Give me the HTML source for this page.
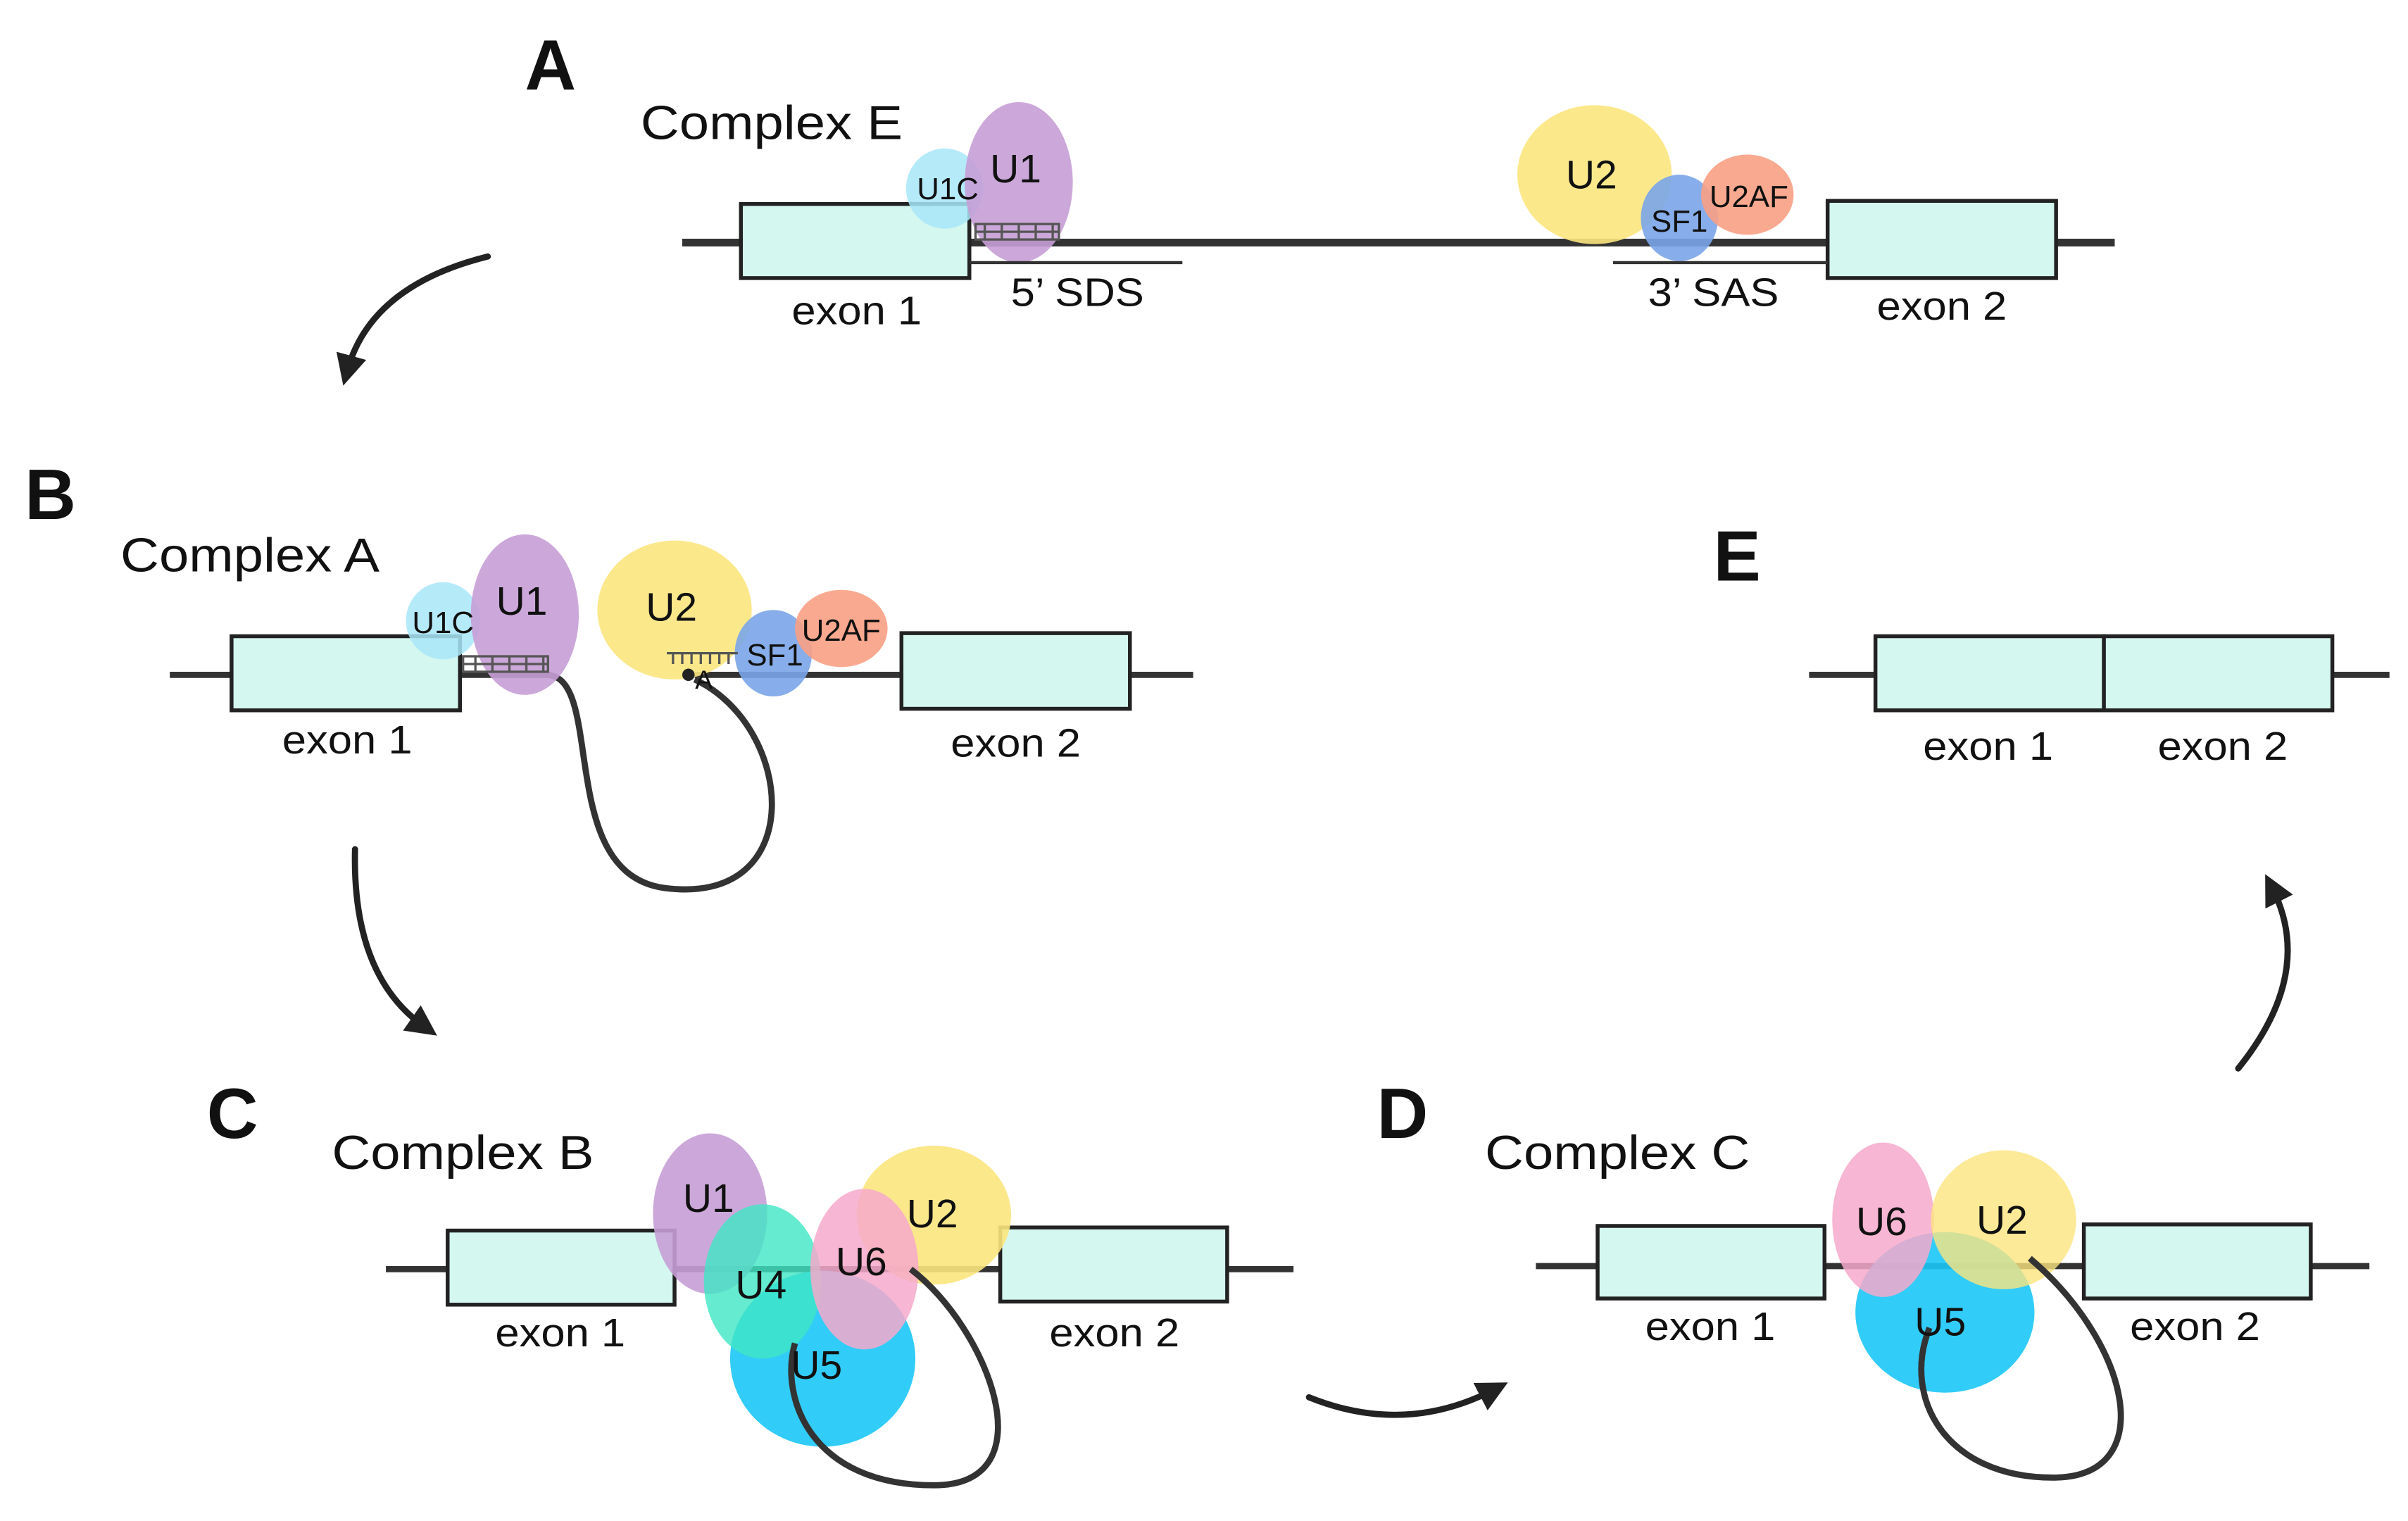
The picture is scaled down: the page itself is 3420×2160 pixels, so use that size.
<!DOCTYPE html>
<html><head><meta charset="utf-8"><style>
html,body{margin:0;padding:0;background:#fff;}
svg{display:block;}
text{font-family:"Liberation Sans",sans-serif;fill:#111;}
.lab{font-size:26px;}
.ttl{font-size:31px;}
</style></head><body>
<svg width="3420" height="2160" viewBox="0 0 1560 985" xmlns="http://www.w3.org/2000/svg">
<defs>
<marker id="ah" viewBox="0 0 10 10" refX="5" refY="5" markerWidth="5" markerHeight="5" orient="auto"><path d="M0,0 L10,5 L0,10 z" fill="#222"/></marker>
<pattern id="hatch" width="11" height="10" patternUnits="userSpaceOnUse"><rect width="11" height="10" fill="none" stroke="#555" stroke-width="1.5"/></pattern>
</defs>
<g stroke="#222" stroke-width="4" fill="none" stroke-linecap="round">
<path d="M316 166 Q 240 185 225 240" marker-end="url(#ah)"/>
<path d="M230 550 Q 228 632 275 665" marker-end="url(#ah)"/>
<path d="M848 905 Q 910 930 968 900" marker-end="url(#ah)"/>
<path d="M1450 692 Q 1500 630 1472 575" marker-end="url(#ah)"/>
</g>

<!-- Panel A -->
<text x="340" y="58" font-size="46" font-weight="bold">A</text>
<text x="415" y="90" class="ttl" transform="translate(415 0) scale(1.12 1) translate(-415 0)">Complex E</text>
<line x1="442" y1="157" x2="1370" y2="157" stroke="#333" stroke-width="5"/>
<rect x="480" y="132" width="148" height="48" fill="#d4f7f0" stroke="#222" stroke-width="2.5"/>
<rect x="1184" y="130" width="148" height="50" fill="#d4f7f0" stroke="#222" stroke-width="2.5"/>
<ellipse cx="612" cy="122" rx="25" ry="26" fill="#a8e6f8" opacity="0.85"/>
<ellipse cx="660" cy="118" rx="35" ry="52" fill="#c79fd6" opacity="0.9"/>
<rect x="632" y="145" width="54" height="10" fill="url(#hatch)" stroke="#555" stroke-width="1.5"/>
<line x1="628" y1="170" x2="766" y2="170" stroke="#333" stroke-width="2"/>
<text x="614" y="129" font-size="20" text-anchor="middle">U1C</text>
<text x="658" y="118" font-size="26" text-anchor="middle">U1</text>
<ellipse cx="1033" cy="113" rx="50" ry="45" fill="#fbe57e" opacity="0.9"/>
<ellipse cx="1088" cy="141" rx="25" ry="28" fill="#7aa5e8" opacity="0.9"/>
<ellipse cx="1132" cy="126" rx="30" ry="26" fill="#f8a084" opacity="0.9"/>
<line x1="1045" y1="170" x2="1184" y2="170" stroke="#333" stroke-width="2"/>
<text x="1031" y="122" font-size="26" text-anchor="middle">U2</text>
<text x="1088" y="150" font-size="20" text-anchor="middle">SF1</text>
<text x="1133" y="134" font-size="20" text-anchor="middle">U2AF</text>
<g transform="scale(1.08 1)">
<text x="513.9" y="210" class="lab" text-anchor="middle">exon 1</text>
<text x="646.3" y="198" class="lab" text-anchor="middle">5’ SDS</text>
<text x="1027.8" y="198" class="lab" text-anchor="middle">3’ SAS</text>
<text x="1164.8" y="207" class="lab" text-anchor="middle">exon 2</text>
</g>

<!-- Panel B -->
<text x="16" y="336" font-size="46" font-weight="bold">B</text>
<text x="78" y="370" class="ttl" transform="translate(78 0) scale(1.12 1) translate(-78 0)">Complex A</text>
<line x1="110" y1="437" x2="355" y2="437" stroke="#333" stroke-width="4"/>
<line x1="450" y1="437" x2="773" y2="437" stroke="#333" stroke-width="4"/>
<path d="M355 437 C 392 440, 360 565, 430 575 C 525 588, 515 470, 450 440" fill="none" stroke="#333" stroke-width="4"/>
<rect x="150" y="412" width="148" height="48" fill="#d4f7f0" stroke="#222" stroke-width="2.5"/>
<rect x="584" y="410" width="148" height="49" fill="#d4f7f0" stroke="#222" stroke-width="2.5"/>
<ellipse cx="287" cy="402" rx="24" ry="25" fill="#a8e6f8" opacity="0.85"/>
<ellipse cx="340" cy="398" rx="35" ry="52" fill="#c79fd6" opacity="0.9"/>
<rect x="300" y="425" width="55" height="10" fill="url(#hatch)" stroke="#555" stroke-width="1.5"/>
<text x="287" y="410" font-size="20" text-anchor="middle">U1C</text>
<text x="338" y="398" font-size="26" text-anchor="middle">U1</text>
<ellipse cx="437" cy="395" rx="50" ry="45" fill="#fbe57e" opacity="0.9"/>
<ellipse cx="501" cy="423" rx="25" ry="28" fill="#7aa5e8" opacity="0.9"/>
<ellipse cx="545" cy="407" rx="30" ry="25" fill="#f8a084" opacity="0.9"/>
<path d="M432 423 H478 M436 423 V430 M442 423 V430 M448 423 V430 M454 423 V430 M460 423 V430 M466 423 V430 M472 423 V430" stroke="#555" stroke-width="1.5"/>
<circle cx="446" cy="437" r="4" fill="#222"/>
<text x="456" y="446" font-size="17" text-anchor="middle">A</text>
<text x="435" y="402" font-size="26" text-anchor="middle">U2</text>
<text x="502" y="431" font-size="20" text-anchor="middle">SF1</text>
<text x="545" y="415" font-size="20" text-anchor="middle">U2AF</text>
<g transform="scale(1.08 1)">
<text x="208.3" y="488" class="lab" text-anchor="middle">exon 1</text>
<text x="609.3" y="490" class="lab" text-anchor="middle">exon 2</text>
</g>

<!-- Panel C -->
<text x="134" y="737" font-size="46" font-weight="bold">C</text>
<text x="215" y="757" class="ttl" transform="translate(215 0) scale(1.12 1) translate(-215 0)">Complex B</text>
<line x1="250" y1="822" x2="838" y2="822" stroke="#333" stroke-width="4"/>
<rect x="290" y="797" width="147" height="48" fill="#d4f7f0" stroke="#222" stroke-width="2.5"/>
<rect x="648" y="795" width="147" height="48" fill="#d4f7f0" stroke="#222" stroke-width="2.5"/>
<ellipse cx="460" cy="786" rx="37" ry="52" fill="#c79fd6" opacity="0.9"/>
<ellipse cx="605" cy="787" rx="50" ry="45" fill="#fbe57e" opacity="0.9"/>
<ellipse cx="533" cy="880" rx="60" ry="57" fill="#1cc6f7" opacity="0.9"/>
<ellipse cx="494" cy="830" rx="38" ry="50" fill="#3ee6c4" opacity="0.8"/>
<ellipse cx="560" cy="822" rx="35" ry="52" fill="#f6a9cb" opacity="0.85"/>
<path d="M590 822 C 640 860, 680 962, 605 962 C 525 962, 505 905, 515 870" fill="none" stroke="#333" stroke-width="4"/>
<text x="459" y="785" font-size="26" text-anchor="middle">U1</text>
<text x="604" y="795" font-size="26" text-anchor="middle">U2</text>
<text x="558" y="826" font-size="26" text-anchor="middle">U6</text>
<text x="493" y="841" font-size="26" text-anchor="middle">U4</text>
<text x="529" y="893" font-size="26" text-anchor="middle">U5</text>
<g transform="scale(1.08 1)">
<text x="336.1" y="872" class="lab" text-anchor="middle">exon 1</text>
<text x="668.5" y="872" class="lab" text-anchor="middle">exon 2</text>
</g>

<!-- Panel D -->
<text x="892" y="737" font-size="46" font-weight="bold">D</text>
<text x="962" y="757" class="ttl" transform="translate(962 0) scale(1.12 1) translate(-962 0)">Complex C</text>
<line x1="995" y1="820" x2="1535" y2="820" stroke="#333" stroke-width="4"/>
<rect x="1035" y="794" width="147" height="47" fill="#d4f7f0" stroke="#222" stroke-width="2.5"/>
<rect x="1350" y="793" width="147" height="48" fill="#d4f7f0" stroke="#222" stroke-width="2.5"/>
<ellipse cx="1260" cy="850" rx="58" ry="52" fill="#1cc6f7" opacity="0.9"/>
<ellipse cx="1220" cy="790" rx="33" ry="50" fill="#f6a9cb" opacity="0.85"/>
<ellipse cx="1298" cy="790" rx="47" ry="45" fill="#fbe57e" opacity="0.8"/>
<path d="M1315 815 C 1380 870, 1400 957, 1330 957 C 1260 957, 1232 905, 1250 860" fill="none" stroke="#333" stroke-width="4"/>
<text x="1219" y="800" font-size="26" text-anchor="middle">U6</text>
<text x="1297" y="799" font-size="26" text-anchor="middle">U2</text>
<text x="1257" y="865" font-size="26" text-anchor="middle">U5</text>
<g transform="scale(1.08 1)">
<text x="1025.9" y="868" class="lab" text-anchor="middle">exon 1</text>
<text x="1316.7" y="868" class="lab" text-anchor="middle">exon 2</text>
</g>

<!-- Panel E -->
<text x="1110" y="376" font-size="46" font-weight="bold">E</text>
<line x1="1172" y1="437" x2="1548" y2="437" stroke="#333" stroke-width="4"/>
<rect x="1215" y="412" width="148" height="48" fill="#d4f7f0" stroke="#222" stroke-width="2.5"/>
<rect x="1363" y="412" width="148" height="48" fill="#d4f7f0" stroke="#222" stroke-width="2.5"/>
<g transform="scale(1.08 1)">
<text x="1192.6" y="492" class="lab" text-anchor="middle">exon 1</text>
<text x="1333.3" y="492" class="lab" text-anchor="middle">exon 2</text>
</g>
</svg>
</body></html>
